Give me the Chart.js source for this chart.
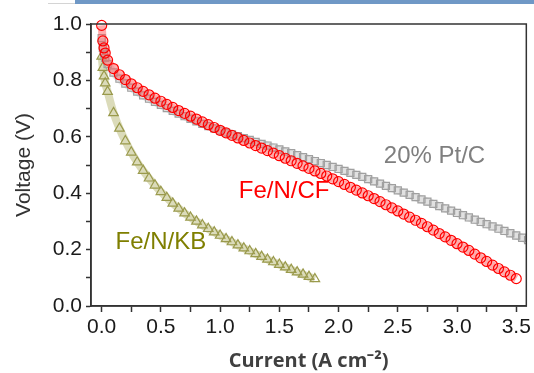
<!DOCTYPE html>
<html lang="en">
<head>
<meta charset="UTF-8">
<title>Polarization curves</title>
<script src="https://cdn.jsdelivr.net/npm/chart.js"></script>
<style>
  body { margin: 0; background: #fff; }
  .wrap { position: relative; width: 534px; height: 373px; }
  .topline { position: absolute; top: 3px; left: 48px; width: 27px; height: 1px; background: #d4d4d4; }
  .topbar { position: absolute; top: 0; left: 75px; width: 459px; height: 4px; background: #6f98c6; }
</style>
</head>
<body>
<div class="wrap">
  <canvas id="chart"></canvas>
  <div class="topline"></div>
  <div class="topbar"></div>
</div>
<script>
// current density (A cm-2) shared by all three curves
const current = [0, 0.01, 0.02, 0.03, 0.05,
  0.10, 0.15, 0.20, 0.25, 0.30, 0.35, 0.40, 0.45, 0.50, 0.55, 0.60, 0.65, 0.70, 0.75, 0.80, 0.85, 0.90, 0.95, 1.00,
  1.05, 1.10, 1.15, 1.20, 1.25, 1.30, 1.35, 1.40, 1.45, 1.50, 1.55, 1.60, 1.65, 1.70, 1.75, 1.80, 1.85, 1.90, 1.95, 2.00,
  2.05, 2.10, 2.15, 2.20, 2.25, 2.30, 2.35, 2.40, 2.45, 2.50, 2.55, 2.60, 2.65, 2.70, 2.75, 2.80, 2.85, 2.90, 2.95, 3.00,
  3.05, 3.10, 3.15, 3.20, 3.25, 3.30, 3.35, 3.40, 3.45, 3.50, 3.55, 3.60];

const cfVoltage = [0.995, 0.940, 0.915, 0.897, 0.872,
  0.842, 0.820, 0.803, 0.788, 0.774, 0.761, 0.749, 0.737, 0.726, 0.715, 0.704, 0.693, 0.683, 0.673, 0.663, 0.653, 0.643, 0.633, 0.623,
  0.614, 0.605, 0.596, 0.587, 0.578, 0.569, 0.560, 0.551, 0.542, 0.533, 0.524, 0.515, 0.506, 0.497, 0.488, 0.479, 0.470, 0.461, 0.451, 0.441,
  0.431, 0.421, 0.411, 0.401, 0.391, 0.381, 0.370, 0.359, 0.348, 0.337, 0.326, 0.315, 0.304, 0.293, 0.281, 0.269, 0.257, 0.245, 0.233, 0.221,
  0.209, 0.197, 0.184, 0.171, 0.158, 0.145, 0.133, 0.121, 0.109, 0.097];

const ptVoltage = [0.950, 0.915, 0.895, 0.880, 0.858,
  0.828, 0.806, 0.789, 0.774, 0.760, 0.747, 0.735, 0.724, 0.713, 0.702, 0.692, 0.682, 0.673, 0.664, 0.655, 0.646, 0.638, 0.630, 0.622,
  0.615, 0.609, 0.602, 0.595, 0.589, 0.582, 0.575, 0.569, 0.562, 0.555, 0.548, 0.542, 0.535, 0.528, 0.521, 0.514, 0.507, 0.500, 0.493, 0.486,
  0.479, 0.472, 0.465, 0.458, 0.450, 0.442, 0.434, 0.426, 0.418, 0.410, 0.402, 0.394, 0.386, 0.378, 0.370, 0.362, 0.354, 0.346, 0.338, 0.330,
  0.322, 0.314, 0.306, 0.298, 0.290, 0.282, 0.274, 0.266, 0.258, 0.250, 0.242, 0.234];

const kbVoltage = [0.885, 0.845, 0.815, 0.790, 0.760,
  0.685, 0.630, 0.585, 0.545, 0.510, 0.480, 0.453, 0.428, 0.405, 0.384, 0.364, 0.346, 0.329, 0.314, 0.300, 0.287, 0.274, 0.262, 0.250,
  0.238, 0.227, 0.216, 0.205, 0.195, 0.185, 0.175, 0.165, 0.156, 0.147, 0.138, 0.129, 0.120, 0.112, 0.104, 0.096];

const seriesNames = ['Fe/N/CF', '20% Pt/C', 'Fe/N/KB'];

function toPoints(volts) {
  return volts.map((v, i) => ({ x: current[i], y: v }));
}

const tickFont = { family: "'Liberation Sans', Arial, sans-serif", size: 21 };

// box around plot area
const frame = {
  id: 'frame',
  afterDraw(chart) {
    const { ctx, chartArea: a } = chart;
    ctx.save();
    ctx.strokeStyle = '#333';
    ctx.lineWidth = 1.5;
    ctx.strokeRect(a.left, a.top, a.right - a.left, a.bottom - a.top);
    ctx.restore();
  }
};

// curve names written inside the plot
const curveLabels = {
  id: 'curveLabels',
  afterDatasetsDraw(chart) {
    const { ctx, scales } = chart;
    const spots = [
      { text: seriesNames[0], x: 1.54, y: 0.405, color: '#ff0000' },
      { text: seriesNames[1], x: 2.81, y: 0.530, color: '#7f7f7f' },
      { text: seriesNames[2], x: 0.50, y: 0.227, color: '#7f7f00' }
    ];
    ctx.save();
    ctx.font = "24px 'Liberation Sans', Arial, sans-serif";
    ctx.textAlign = 'center';
    ctx.textBaseline = 'middle';
    spots.forEach(s => {
      ctx.fillStyle = s.color;
      ctx.fillText(s.text, scales.x.getPixelForValue(s.x), scales.y.getPixelForValue(s.y));
    });
    ctx.restore();
  }
};

function series(label, volts, edge, band, style, radius) {
  return {
    label: label,
    data: toPoints(volts),
    showLine: true,
    borderColor: band,
    borderWidth: 8,
    cubicInterpolationMode: 'monotone',
    pointStyle: style,
    pointRadius: radius,
    pointBorderColor: edge,
    pointBorderWidth: 1.2,
    pointBackgroundColor: 'rgba(255,255,255,0)',
    clip: { left: 6, top: 6, right: 0, bottom: 0 }
  };
}

new Chart(document.getElementById('chart'), {
  type: 'scatter',
  data: {
    datasets: [
      series(seriesNames[0], cfVoltage, '#ff0000', 'rgba(255,90,90,0.5)', 'circle', 5),
      series(seriesNames[1], ptVoltage, '#a0a0a0', 'rgba(195,195,195,0.5)', 'rect', 5),
      series(seriesNames[2], kbVoltage, '#9a9a4c', 'rgba(190,190,130,0.55)', 'triangle', 5.5)
    ]
  },
  options: {
    responsive: true,
    maintainAspectRatio: false,
    animation: false,
    layout: { padding: { left: 0, top: 24, right: 6, bottom: 0 } },
    plugins: {
      legend: { display: false },
      tooltip: { enabled: false }
    },
    scales: {
      x: {
        type: 'linear',
        min: -0.09,
        max: 3.585,
        afterFit(scale) { scale.height = 67; },
        border: { display: true, color: '#333', width: 1.5 },
        grid: { drawOnChartArea: false, drawTicks: true, tickLength: 6, tickColor: '#333', tickWidth: 1.5 },
        ticks: {
          stepSize: 0.25,
          includeBounds: false,
          autoSkip: false,
          maxRotation: 0,
          padding: 3,
          color: '#1a1a1a',
          font: tickFont,
          callback: v => Math.abs(v * 2 - Math.round(v * 2)) < 1e-6 ? v.toFixed(1) : ''
        },
        title: {
          display: true,
          text: 'Current (A cm\u207B\u00B2)',
          color: '#404040',
          font: { family: "'Open Sans', sans-serif", size: 20, weight: 'bold' },
          padding: { top: 0, bottom: 0 }
        }
      },
      y: {
        min: 0,
        max: 1.0,
        afterFit(scale) { scale.width = 91; },
        border: { display: true, color: '#333', width: 1.5 },
        grid: { drawOnChartArea: false, drawTicks: true, tickLength: 5, tickColor: '#333', tickWidth: 1.5 },
        ticks: {
          stepSize: 0.1,
          autoSkip: false,
          padding: 4,
          color: '#1a1a1a',
          font: tickFont,
          callback: v => Math.round(v * 10) % 2 === 0 ? v.toFixed(1) : ''
        },
        title: {
          display: true,
          text: 'Voltage (V)',
          color: '#333',
          font: tickFont,
          padding: { top: 12, bottom: 0 }
        }
      }
    }
  },
  plugins: [frame, curveLabels]
});
</script>
</body>
</html>
